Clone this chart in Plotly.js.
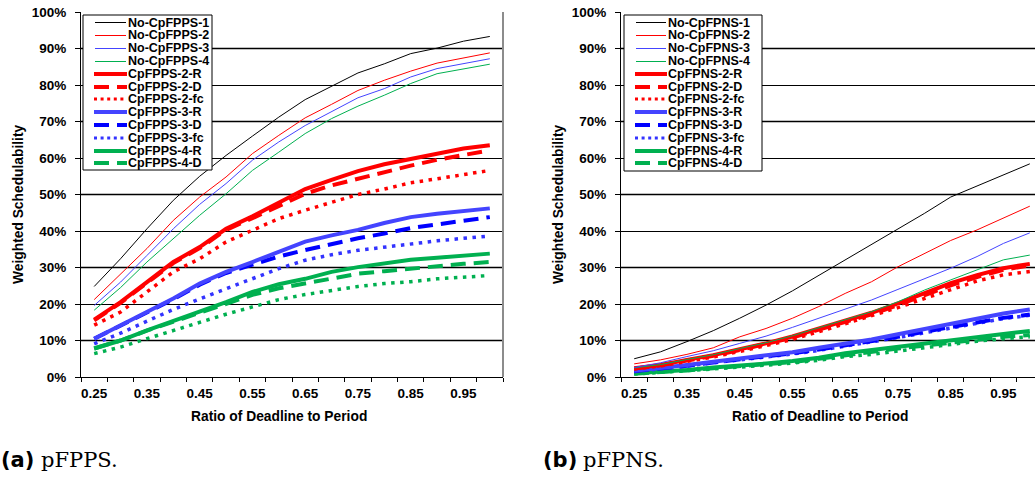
<!DOCTYPE html>
<html>
<head>
<meta charset="utf-8">
<script src="https://cdn.plot.ly/plotly-3.0.1.min.js"></script>
<style>html,body{margin:0;padding:0;background:#fff;}#chart{width:1035px;height:478px;}</style>
</head>
<body>
<div id="chart"></div>
<script>
// ---------- data ----------
const ratio = [0.25,0.30,0.35,0.40,0.45,0.50,0.55,0.60,0.65,0.70,0.75,0.80,0.85,0.90,0.95,1.00];
const xTickVals = [0.25,0.35,0.45,0.55,0.65,0.75,0.85,0.95];
const xTickText = ['0.25','0.35','0.45','0.55','0.65','0.75','0.85','0.95'];

const namesA = ['No-CpFPPS-1','No-CpFPPS-2','No-CpFPPS-3','No-CpFPPS-4','CpFPPS-2-R','CpFPPS-2-D','CpFPPS-2-fc','CpFPPS-3-R','CpFPPS-3-D','CpFPPS-3-fc','CpFPPS-4-R','CpFPPS-4-D','CpFPPS-4-fc'];
const namesB = ['No-CpFPNS-1','No-CpFPNS-2','No-CpFPNS-3','No-CpFPNS-4','CpFPNS-2-R','CpFPNS-2-D','CpFPNS-2-fc','CpFPNS-3-R','CpFPNS-3-D','CpFPNS-3-fc','CpFPNS-4-R','CpFPNS-4-D','CpFPNS-4-fc'];

// (a) pFPPS  — weighted schedulability in %
const a_noCp1 = [24.8,32.4,40.6,48.4,55.0,60.7,66.0,71.2,76.0,79.6,83.3,85.8,88.6,90.1,92.0,93.3];
const a_noCp2 = [21.2,28.3,35.2,42.9,49.3,54.8,61.2,66.2,71.0,74.7,78.5,81.3,83.8,86.0,87.5,88.8];
const a_noCp3 = [19.6,26.0,33.3,40.6,47.3,53.0,59.4,64.4,68.9,72.6,76.5,79.0,82.2,84.5,85.8,87.2];
const a_noCp4 = [18.3,24.5,31.5,37.9,44.3,50.2,56.6,61.6,66.7,70.8,74.2,77.2,80.4,83.1,84.5,85.7];
const a_cp2R  = [15.7,20.5,26.0,31.5,35.6,40.6,44.0,47.9,51.5,54.0,56.4,58.3,59.8,61.3,62.6,63.5];
const a_cp2D  = [15.5,20.3,25.8,31.2,35.3,40.3,43.5,47.0,50.2,52.5,54.3,56.2,57.9,59.5,60.8,62.1];
const a_cp2fc = [14.2,17.8,23.3,28.8,32.4,37.0,40.2,43.4,45.7,47.9,50.0,51.5,53.2,54.3,55.5,56.6];
const a_cp3R  = [10.5,14.2,17.8,21.5,25.6,28.8,31.5,34.2,37.1,38.8,40.3,42.2,43.8,44.7,45.4,46.2];
const a_cp3D  = [10.5,14.1,17.7,21.3,25.3,28.5,30.8,33.0,34.8,36.5,38.0,39.3,40.8,41.8,42.9,43.8];
const a_cp3fc = [9.1,12.0,15.3,18.5,21.4,24.2,27.0,29.7,32.0,33.5,34.7,35.6,36.5,37.3,38.0,38.6];
const a_cp4R  = [7.8,10.0,12.8,15.3,17.8,20.5,23.3,25.4,26.9,28.8,30.1,31.1,32.1,32.7,33.2,33.8];
const a_cp4D  = [7.8,10.0,12.7,15.1,17.5,20.1,22.5,24.3,25.6,27.0,28.3,29.0,29.7,30.4,31.0,31.5];
const a_cp4fc = [6.4,8.2,10.5,12.8,15.1,17.2,19.2,21.2,22.6,23.7,24.8,25.6,26.1,26.9,27.4,27.8];

// (b) pFPNS
const b_noCp1 = [5.0,6.9,9.7,12.7,16.1,19.7,23.6,27.8,32.0,36.2,40.5,44.8,49.3,52.3,55.5,58.4];
const b_noCp2 = [3.6,4.7,6.2,8.0,11.0,13.3,16.1,19.3,22.9,26.1,30.2,33.7,37.4,40.3,43.5,46.8];
const b_noCp3 = [2.6,3.9,5.6,7.2,9.2,11.2,13.6,16.1,18.4,21.1,24.0,26.8,29.8,33.0,36.6,39.5];
const b_noCp4 = [2.5,3.4,4.8,6.1,7.8,9.4,11.3,13.5,15.8,17.9,20.6,23.8,26.6,29.3,32.1,33.4];
const b_cp2R  = [2.4,3.3,4.7,6.0,7.6,9.2,11.1,13.3,15.6,17.6,20.2,22.9,25.7,27.9,29.8,31.0];
const b_cp2D  = [2.3,3.2,4.5,5.8,7.4,9.0,10.8,13.0,15.2,17.2,19.7,22.3,25.1,27.4,29.4,30.6];
const b_cp2fc = [2.2,3.0,4.3,5.5,7.0,8.6,10.3,12.4,14.6,16.6,19.0,21.5,24.0,26.3,28.0,28.9];
const b_cp3R  = [1.7,2.4,3.3,4.2,5.0,5.8,6.8,8.0,9.1,10.3,11.7,13.1,14.5,16.1,17.4,18.5];
const b_cp3D  = [1.6,2.3,3.1,4.0,4.8,5.6,6.5,7.5,8.6,9.7,11.0,12.4,13.7,15.0,16.2,17.1];
const b_cp3fc = [1.5,2.2,3.0,3.9,4.7,5.4,6.3,7.3,8.4,9.5,10.8,12.1,13.4,14.8,16.0,16.9];
const b_cp4R  = [1.0,1.4,1.9,2.6,3.1,3.7,4.4,5.3,6.5,7.4,8.4,9.3,10.2,10.9,11.8,12.6];
const b_cp4D  = [0.9,1.3,1.8,2.4,2.9,3.5,4.1,5.0,6.0,6.9,7.8,8.6,9.5,10.2,11.0,11.5];
const b_cp4fc = [0.8,1.2,1.6,2.2,2.7,3.2,3.8,4.6,5.6,6.2,7.1,8.2,9.0,9.8,10.5,11.0];

const seriesA = [a_noCp1,a_noCp2,a_noCp3,a_noCp4,a_cp2R,a_cp2D,a_cp2fc,a_cp3R,a_cp3D,a_cp3fc,a_cp4R,a_cp4D,a_cp4fc];
const seriesB = [b_noCp1,b_noCp2,b_noCp3,b_noCp4,b_cp2R,b_cp2D,b_cp2fc,b_cp3R,b_cp3D,b_cp3fc,b_cp4R,b_cp4D,b_cp4fc];

// ---------- styles ----------
const RED='#FF0000', BLUE='#0000FF', BLUE_L='#4444FF', GREEN='#00B050';
const DASH='15px,8px', DOT='3.5px,5.5px';
const styles = [
  {color:'#000000', width:1, dash:'solid', legend:true},
  {color:RED, width:1, dash:'solid', legend:true},
  {color:BLUE_L, width:1, dash:'solid', legend:true},
  {color:GREEN, width:1, dash:'solid', legend:true},
  {color:RED, width:4, dash:'solid', legend:true},
  {color:RED, width:4, dash:DASH, legend:true},
  {color:RED, width:3.5, dash:DOT, legend:true},
  {color:BLUE_L, width:4, dash:'solid', legend:true},
  {color:BLUE, width:4, dash:DASH, legend:true},
  {color:'#3333FF', width:3.5, dash:DOT, legend:true},
  {color:GREEN, width:4, dash:'solid', legend:true},
  {color:GREEN, width:4, dash:DASH, legend:true},
  {color:GREEN, width:3.5, dash:DOT, legend:false}
];

const W=1035, H=478;
const PX = x => x/W, PY = y => 1 - y/H;
const FONT = 'Liberation Sans, Arial, sans-serif';
const tickfont = {family:FONT, size:13.5, color:'#000', weight:'bold'};

const traces = [];
function addTraces(names, series, xa, ya) {
  const order = [12,11,10,9,8,7,6,5,4,3,2,1,0];
  order.forEach(i => {
    const st = styles[i];
    traces.push({
      type:'scatter', mode:'lines', x:ratio, y:series[i], name:names[i],
      xaxis:xa, yaxis:ya,
      line:{color:st.color, width:st.width, dash:st.dash},
      hoverinfo:'skip', showlegend:false
    });
  });
}
addTraces(namesA, seriesA, 'x', 'y');
addTraces(namesB, seriesB, 'x2', 'y2');

const bounds = ratio.map(r => +(r - 0.025).toFixed(3)).concat([+(ratio[ratio.length-1]+0.025).toFixed(3)]);

function xAxis(domain, range, anchor) {
  return {
    domain, range, anchor, type:'linear', fixedrange:true,
    tickmode:'array', tickvals:xTickVals, ticktext:xTickText, ticks:'',
    showgrid:false, zeroline:false, showline:true, linecolor:'#000', linewidth:1,
    tickfont, ticklabelstandoff:4,
    minor:{tickmode:'array', tickvals:bounds, ticks:'outside', ticklen:4, tickcolor:'#000', tickwidth:1, showgrid:false}
  };
}
function yAxis(anchor) {
  return {
    domain:[1-377/H, 1-12/H], range:[0,100], anchor, fixedrange:true,
    tickmode:'linear', tick0:0, dtick:10, ticksuffix:'%',
    ticks:'outside', ticklen:5, tickcolor:'#000', tickwidth:1,
    showgrid:true, gridcolor:'#000', gridwidth:1,
    showline:true, linecolor:'#000', linewidth:1, zeroline:false,
    tickfont, ticklabelstandoff:6
  };
}

const shapes = [];
const annotations = [];

[['x','y'],['x2','y2']].forEach(([xa,ya]) => {
  [10,30,50,70,90].forEach(v => shapes.push({type:'line', xref:xa+' domain', yref:ya, x0:0, x1:1, y0:v, y1:v,
    line:{color:'#7f7f7f', width:2}, layer:'below'}));
});
shapes.push({type:'line', xref:'x domain', yref:'y domain', x0:1, x1:1, y0:0, y1:1, line:{color:'#8c8c8c', width:2}, layer:'above'});

// manual legends (12 rows, tight spacing like the reference)
const ROW0 = 22.7, ROWSTEP = 12.78;
function legend(names, box, lineX, textX) {
  shapes.push({type:'rect', xref:'paper', yref:'paper', x0:PX(box[0]), x1:PX(box[1]), y0:PY(box[2]), y1:PY(box[3]),
    line:{color:'#000', width:1}, fillcolor:'#fff', layer:'above'});
  let row = 0;
  names.forEach((nm, i) => {
    const st = styles[i];
    if (!st.legend) return;
    const yc = ROW0 + row*ROWSTEP;
    const thin = st.width < 2;
    const ySample = thin ? Math.floor(yc) + 0.5 : Math.round(yc);
    let ldash = st.dash;
    if (ldash === DOT) ldash = '3px,3.6px';
    shapes.push({type:'line', xref:'paper', yref:'paper',
      x0:PX(lineX[0] + (thin?1:0)), x1:PX(lineX[1] - (thin?1:0)), y0:PY(ySample), y1:PY(ySample),
      line:{color:st.color, width:st.width===3.5?3:st.width, dash:ldash}, layer:'above'});
    annotations.push({xref:'paper', yref:'paper', x:PX(textX), y:PY(yc), xanchor:'left', yanchor:'middle',
      text:nm, showarrow:false, borderpad:0,
      font:{family:FONT, size:12.5, color:'#000', weight:'bold'}});
    row++;
  });
}
legend(namesA, [83,212,15,170], [94,127], 126.5);
legend(namesB, [624,762,15,171], [635,667], 666.5);

const titleFont = {family:FONT, size:13.8, color:'#000', weight:'bold'};
[[279, 18],[820, 558]].forEach(([xt, yt]) => {
  annotations.push({xref:'paper', yref:'paper', x:PX(xt), y:PY(416), xanchor:'center', yanchor:'middle',
    text:'Ratio of Deadline to Period', showarrow:false, font:titleFont});
  annotations.push({xref:'paper', yref:'paper', x:PX(yt), y:PY(204), xanchor:'center', yanchor:'middle',
    text:'Weighted Schedulability', textangle:-90, showarrow:false, font:titleFont});
});

[[0,'(a)',40,'pFPPS.'],[542,'(b)',582,'pFPNS.']].forEach(([x1,t1,x2,t2]) => {
  annotations.push({xref:'paper', yref:'paper', x:PX(x1), y:PY(460), xanchor:'left', yanchor:'middle',
    text:t1, showarrow:false, borderpad:0, font:{family:'DejaVu Sans', size:21, color:'#000', weight:'bold'}});
  annotations.push({xref:'paper', yref:'paper', x:PX(x2), y:PY(460), xanchor:'left', yanchor:'middle',
    text:t2, showarrow:false, borderpad:0, font:{family:'DejaVu Serif', size:21, color:'#000'}});
});

const layout = {
  width:W, height:H, margin:{l:0, r:0, t:0, b:0},
  paper_bgcolor:'#fff', plot_bgcolor:'#fff', showlegend:false,
  xaxis: xAxis([81/W, 503/W], [0.225, 1.025], 'y'),
  yaxis: yAxis('x'),
  xaxis2: xAxis([621/W, 1], [0.225, 0.225 + (1035-621)/527.5], 'y2'),
  yaxis2: yAxis('x2'),
  shapes, annotations
};

Plotly.newPlot('chart', traces, layout, {staticPlot:true, displayModeBar:false});
</script>
</body>
</html>
